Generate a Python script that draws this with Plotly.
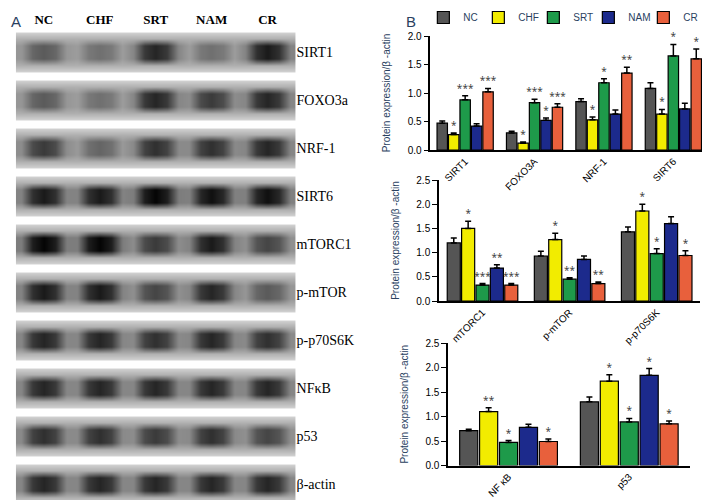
import plotly.graph_objects as go
import numpy as np

lanes = ["NC", "CHF", "SRT", "NAM", "CR"]
proteins = ["SIRT1", "FOXO3a", "NRF-1", "SIRT6", "mTORC1", "p-mTOR", "p-p70S6K", "NFκB", "p53", "β-actin"]
band = [
    [0.60, 0.50, 0.85, 0.50, 0.90],
    [0.60, 0.50, 0.85, 0.75, 0.85],
    [0.75, 0.55, 0.80, 0.80, 0.85],
    [0.90, 0.90, 1.00, 0.95, 0.95],
    [1.00, 1.00, 0.75, 0.90, 0.70],
    [0.90, 0.90, 0.70, 0.85, 0.60],
    [0.85, 0.85, 0.80, 0.85, 0.80],
    [0.85, 0.85, 0.85, 0.85, 0.85],
    [0.80, 0.80, 0.75, 0.80, 0.70],
    [0.85, 0.85, 0.85, 0.85, 0.85],
]

groups = ["NC", "CHF", "SRT", "NAM", "CR"]
colors = ["#555555", "#f2ec00", "#1e9a4a", "#1c2a8c", "#e8603c"]

c1 = ["SIRT1", "FOXO3A", "NRF-1", "SIRT6"]
v1 = [[0.47, 0.30, 0.85, 1.08], [0.27, 0.12, 0.53, 0.63], [0.88, 0.83, 1.18, 1.65],
      [0.42, 0.52, 0.63, 0.72], [1.02, 0.75, 1.35, 1.60]]
e1 = [[0.04, 0.03, 0.05, 0.10], [0.03, 0.02, 0.05, 0.08], [0.07, 0.06, 0.07, 0.20],
      [0.04, 0.04, 0.07, 0.10], [0.06, 0.06, 0.10, 0.17]]
s1 = [["", "", "", ""], ["*", "*", "*", "*"], ["***", "***", "*", "*"],
      ["", "*", "", ""], ["***", "***", "**", "*"]]

c2 = ["mTORC1", "p-mTOR", "p-p70S6K"]
v2 = [[1.20, 0.93, 1.43], [1.50, 1.27, 1.86], [0.33, 0.45, 0.98], [0.68, 0.86, 1.60], [0.33, 0.36, 0.94]]
e2 = [[0.10, 0.10, 0.10], [0.15, 0.13, 0.14], [0.03, 0.03, 0.10], [0.07, 0.07, 0.14], [0.03, 0.03, 0.10]]
s2 = [["", "", ""], ["*", "*", "*"], ["***", "**", "*"], ["**", "", ""], ["***", "**", "*"]]

c3 = ["NF κB", "p53"]
v3 = [[0.71, 1.30], [1.10, 1.72], [0.47, 0.89], [0.78, 1.84], [0.49, 0.85]]
e3 = [[0.03, 0.10], [0.08, 0.13], [0.04, 0.07], [0.06, 0.14], [0.05, 0.06]]
s3 = [["", ""], ["**", "*"], ["*", "*"], ["", "*"], ["*", "*"]]

fig = go.Figure()

BG = 0.2
SUB = 5
NC_ = len(lanes) * SUB
z = []
for row in band:
    b = []
    for v in row:
        b += [BG + 0.3 * (v - BG), BG + 0.85 * (v - BG), v, BG + 0.85 * (v - BG), BG + 0.3 * (v - BG)]
    z += [[0] * NC_, [BG] * NC_, b, b, b, [BG] * NC_, [0] * NC_]
z = z[::-1]
nrow = len(z)
fig.add_trace(go.Heatmap(z=z, colorscale=[[0, "white"], [0.03, "#d0d0d0"], [BG, "#b0b0b0"], [1, "#050505"]],
                         zmin=0, zmax=1, showscale=False, hoverinfo="skip", zsmooth="best",
                         xaxis="x4", yaxis="y4"))
tv = [nrow - 1 - (7 * i + 3) for i in range(len(proteins))]

W = 0.15
offs = [(-2 + j) * 0.165 for j in range(5)]

def add_chart(cats, vals, errs, stars, xa, ya, legend):
    for j, g in enumerate(groups):
        xs = [i + offs[j] for i in range(len(cats))]
        fig.add_trace(go.Bar(x=xs, y=vals[j], width=W, name=g, marker_color=colors[j],
                             marker_line=dict(color="black", width=1.2),
                             error_y=dict(type="data", array=errs[j], symmetric=False, arrayminus=[0]*len(cats),
                                          color="black", thickness=1.5, width=3),
                             xaxis=xa, yaxis=ya, showlegend=legend))
        fig.add_trace(go.Scatter(x=xs, y=[v + e + 0.03 for v, e in zip(vals[j], errs[j])], text=stars[j],
                                 mode="text", textposition="top center", cliponaxis=False,
                                 textfont=dict(size=10, color="#333"), showlegend=False,
                                 xaxis=xa, yaxis=ya, hoverinfo="skip"))

add_chart(c1, v1, e1, s1, "x", "y", True)
add_chart(c2, v2, e2, s2, "x2", "y2", False)
add_chart(c3, v3, e3, s3, "x3", "y3", False)

ax = dict(showline=True, linecolor="black", linewidth=1.5, ticks="outside", tickcolor="black",
          showgrid=False, zeroline=False, tickfont=dict(family="Liberation Sans", size=10, color="black"))
ytitle = dict(text="Protein expression/β -actin", font=dict(family="Liberation Sans", size=10))

fig.update_layout(
    width=710, height=500, margin=dict(l=0, r=0, t=0, b=0, autoexpand=False),
    plot_bgcolor="white", paper_bgcolor="white", barmode="overlay",
    legend=dict(orientation="h", x=0.585, y=1.01, yanchor="top", xanchor="left",
                font=dict(family="Liberation Sans", size=10), entrywidth=10, itemwidth=30,
                tracegroupgap=0, bgcolor="rgba(0,0,0,0)"),
    xaxis=dict(ax, domain=[0.595, 0.986], range=[-0.5, 3.5], tickvals=list(range(4)), ticktext=c1,
               tickangle=-45, ticks=""),
    yaxis=dict(ax, domain=[0.716, 0.944], range=[0, 2.0], tickvals=[0, 0.5, 1, 1.5, 2],
               ticktext=["0.0", "0.5", "1.0", "1.5", "2.0"], title=ytitle),
    xaxis2=dict(ax, domain=[0.607, 0.975], range=[-0.5, 2.5], tickvals=list(range(3)), ticktext=c2,
                tickangle=-45, ticks="", anchor="y2"),
    yaxis2=dict(ax, domain=[0.414, 0.656], range=[0, 2.5], tickvals=[0, 0.5, 1, 1.5, 2, 2.5],
                ticktext=["0.0", "0.5", "1.0", "1.5", "2.0", "2.5"], title=ytitle, anchor="x2"),
    xaxis3=dict(ax, domain=[0.62, 0.96], range=[-0.5, 1.5], tickvals=list(range(2)), ticktext=c3,
                tickangle=-45, ticks="", anchor="y3"),
    yaxis3=dict(ax, domain=[0.085, 0.33], range=[0, 2.5], tickvals=[0, 0.5, 1, 1.5, 2, 2.5],
                ticktext=["0.0", "0.5", "1.0", "1.5", "2.0", "2.5"], title=ytitle, anchor="x3"),
    xaxis4=dict(domain=[0.011, 0.405], side="top", tickvals=[2 + SUB * i for i in range(5)], ticktext=lanes,
                tickfont=dict(family="Liberation Serif", size=13, color="black", weight="bold"), showgrid=False,
                zeroline=False, ticks="", anchor="y4", range=[-0.5, NC_ - 0.5]),
    yaxis4=dict(domain=[0.0, 0.96], side="right", tickvals=tv, ticktext=proteins,
                tickfont=dict(family="Liberation Serif", size=14, color="black"), showgrid=False,
                zeroline=False, ticks="", anchor="x4", range=[-0.5, nrow - 0.5]),
    annotations=[
        dict(text="A", x=0.002, y=0.995, xref="paper", yref="paper", showarrow=False,
             xanchor="left", yanchor="top", font=dict(family="Liberation Sans", size=15)),
        dict(text="B", x=0.558, y=0.995, xref="paper", yref="paper", showarrow=False,
             xanchor="left", yanchor="top", font=dict(family="Liberation Sans", size=15)),
    ],
)
fig.write_html("out.html")
